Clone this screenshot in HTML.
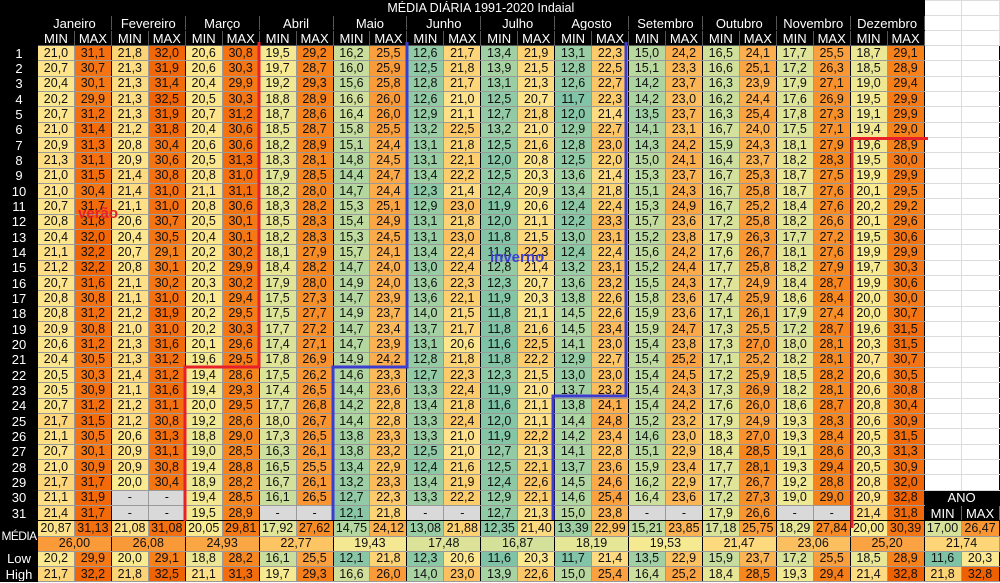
<!DOCTYPE html>
<html><head><meta charset="utf-8">
<style>
html,body{margin:0;padding:0;background:#fff;width:1000px;height:583px;overflow:hidden}
table{border-collapse:collapse;table-layout:fixed;width:998px;font-family:"Liberation Sans",Arial,sans-serif;font-size:12.5px;color:#111}
td,th{padding:0;text-align:center;border:1px solid #9a9a9a;white-space:nowrap;overflow:hidden;line-height:13px}
tr{height:15.33px}
tr.h{height:15px}
th{background:#000;color:#fff;font-weight:normal;font-size:13px;border-color:#000}
th.s{border-right:1px solid #666;border-left:1px solid #666}
tr.h th.m{border-right:1px solid #555}
tr.h th.mm{border-right:1px solid #555;border-bottom:1px solid #555}
tr.d>td:nth-child(odd){border-right:1px solid #000}
tr.last td{border-bottom:1px solid #000}
td.w{background:#fff!important;border:1px solid #dcdcdc}
td.w2{background:#fff!important;border:1px solid #dcdcdc}
td{background:#fcd47a}
td.g{background:#d9d9d9!important}
th.md{font-size:12px;letter-spacing:-0.6px;overflow:visible}
#ov{position:absolute;left:0;top:0}
</style></head><body>
<table>
<colgroup><col style="width:37px"><col span="24" style="width:36.95px"><col style="width:37px"><col style="width:38px"></colgroup>
<tr class="h"><th></th><th colspan="24" style="font-size:12.5px;padding-left:0">MÉDIA DIÁRIA 1991-2020 Indaial</th><td class="w2"></td><td class="w2"></td></tr>
<tr class="h"><th></th><th colspan="2" class="m">Janeiro</th><th colspan="2" class="m">Fevereiro</th><th colspan="2" class="m">Março</th><th colspan="2" class="m">Abril</th><th colspan="2" class="m">Maio</th><th colspan="2" class="m">Junho</th><th colspan="2" class="m">Julho</th><th colspan="2" class="m">Agosto</th><th colspan="2" class="m">Setembro</th><th colspan="2" class="m">Outubro</th><th colspan="2" class="m">Novembro</th><th colspan="2" class="m">Dezembro</th><td class="w2"></td><td class="w2"></td></tr>
<tr class="h"><th></th><th class="mm">MIN</th><th class="mm">MAX</th><th class="mm">MIN</th><th class="mm">MAX</th><th class="mm">MIN</th><th class="mm">MAX</th><th class="mm">MIN</th><th class="mm">MAX</th><th class="mm">MIN</th><th class="mm">MAX</th><th class="mm">MIN</th><th class="mm">MAX</th><th class="mm">MIN</th><th class="mm">MAX</th><th class="mm">MIN</th><th class="mm">MAX</th><th class="mm">MIN</th><th class="mm">MAX</th><th class="mm">MIN</th><th class="mm">MAX</th><th class="mm">MIN</th><th class="mm">MAX</th><th class="mm">MIN</th><th class="mm">MAX</th><td class="w2"></td><td class="w2"></td></tr>
<tr class="d"><th>1</th><td>21,0<td>31,1<td>21,8<td>32,0<td>20,6<td>30,8<td>19,5<td>29,2<td>16,2<td>25,5<td>12,6<td>21,7<td>13,4<td>21,9<td>13,1<td>22,3<td>15,0<td>24,2<td>16,5<td>24,1<td>17,7<td>25,5<td>18,7<td>29,1<td class="w"><td class="w"></tr>
<tr class="d"><th>2</th><td>20,7<td>30,7<td>21,3<td>31,9<td>20,6<td>30,3<td>19,7<td>28,7<td>16,0<td>25,9<td>12,5<td>21,8<td>13,9<td>21,5<td>12,8<td>22,5<td>15,1<td>23,3<td>16,6<td>25,1<td>17,2<td>26,3<td>18,5<td>28,9<td class="w"><td class="w"></tr>
<tr class="d"><th>3</th><td>20,4<td>30,1<td>21,3<td>31,4<td>20,4<td>29,9<td>19,2<td>29,3<td>15,6<td>25,8<td>12,8<td>21,7<td>13,1<td>21,3<td>12,6<td>22,7<td>14,2<td>23,7<td>16,3<td>23,9<td>17,9<td>27,1<td>19,0<td>29,4<td class="w"><td class="w"></tr>
<tr class="d"><th>4</th><td>20,2<td>29,9<td>21,3<td>32,5<td>20,5<td>30,3<td>18,8<td>28,9<td>16,6<td>26,0<td>12,6<td>21,0<td>12,5<td>20,7<td>11,7<td>22,3<td>14,2<td>23,0<td>16,2<td>24,4<td>17,6<td>26,9<td>19,5<td>29,9<td class="w"><td class="w"></tr>
<tr class="d"><th>5</th><td>20,7<td>31,2<td>21,3<td>31,9<td>20,7<td>31,2<td>18,7<td>28,6<td>16,4<td>26,0<td>12,9<td>21,1<td>12,7<td>21,8<td>12,0<td>21,4<td>13,5<td>23,7<td>16,3<td>25,4<td>17,8<td>27,3<td>19,1<td>29,9<td class="w"><td class="w"></tr>
<tr class="d"><th>6</th><td>21,0<td>31,4<td>21,2<td>31,8<td>20,4<td>30,6<td>18,5<td>28,7<td>15,8<td>25,5<td>13,2<td>22,5<td>13,2<td>21,0<td>12,9<td>22,7<td>14,1<td>23,1<td>16,7<td>24,0<td>17,5<td>27,1<td>19,4<td>29,0<td class="w"><td class="w"></tr>
<tr class="d"><th>7</th><td>20,9<td>31,3<td>20,8<td>30,4<td>20,6<td>30,6<td>18,2<td>28,9<td>15,1<td>24,4<td>13,1<td>21,8<td>12,5<td>21,6<td>12,8<td>23,0<td>14,3<td>24,2<td>15,9<td>24,3<td>18,1<td>27,9<td>19,6<td>28,9<td class="w"><td class="w"></tr>
<tr class="d"><th>8</th><td>21,3<td>31,1<td>20,9<td>30,6<td>20,5<td>31,3<td>18,3<td>28,1<td>14,8<td>24,5<td>13,1<td>22,1<td>12,0<td>20,8<td>12,5<td>22,0<td>15,0<td>24,1<td>16,4<td>23,7<td>18,2<td>28,3<td>19,5<td>30,0<td class="w"><td class="w"></tr>
<tr class="d"><th>9</th><td>21,0<td>31,5<td>21,4<td>30,8<td>20,8<td>31,0<td>17,9<td>28,5<td>14,4<td>24,7<td>13,4<td>22,2<td>12,5<td>20,3<td>13,6<td>21,4<td>15,3<td>23,7<td>16,7<td>25,3<td>18,7<td>27,5<td>19,9<td>29,9<td class="w"><td class="w"></tr>
<tr class="d"><th>10</th><td>21,0<td>30,4<td>21,4<td>31,0<td>21,1<td>31,1<td>18,2<td>28,0<td>14,7<td>24,4<td>12,3<td>21,4<td>12,4<td>20,9<td>13,4<td>21,8<td>15,1<td>24,3<td>16,7<td>25,8<td>18,7<td>27,6<td>20,1<td>29,5<td class="w"><td class="w"></tr>
<tr class="d"><th>11</th><td>20,7<td>31,7<td>21,1<td>31,0<td>20,8<td>30,6<td>18,3<td>28,2<td>15,3<td>25,1<td>12,9<td>23,0<td>11,9<td>20,6<td>12,4<td>22,4<td>15,3<td>24,9<td>16,7<td>25,2<td>18,4<td>27,6<td>20,2<td>29,2<td class="w"><td class="w"></tr>
<tr class="d"><th>12</th><td>20,8<td>31,8<td>20,6<td>30,7<td>20,5<td>30,1<td>18,5<td>28,3<td>15,4<td>24,9<td>13,1<td>21,8<td>12,0<td>21,1<td>12,2<td>23,3<td>15,7<td>23,6<td>17,2<td>25,8<td>18,2<td>26,6<td>20,1<td>29,6<td class="w"><td class="w"></tr>
<tr class="d"><th>13</th><td>20,4<td>32,0<td>20,4<td>30,5<td>20,4<td>30,1<td>18,2<td>28,3<td>15,3<td>24,5<td>13,1<td>23,0<td>11,8<td>21,5<td>13,0<td>23,1<td>15,2<td>23,8<td>17,9<td>26,3<td>17,7<td>27,2<td>19,5<td>30,6<td class="w"><td class="w"></tr>
<tr class="d"><th>14</th><td>21,1<td>32,2<td>20,7<td>29,1<td>20,2<td>30,2<td>18,1<td>27,9<td>15,7<td>24,1<td>13,4<td>22,4<td>11,8<td>22,3<td>12,4<td>22,4<td>15,6<td>24,2<td>17,6<td>26,7<td>18,1<td>27,6<td>19,9<td>29,9<td class="w"><td class="w"></tr>
<tr class="d"><th>15</th><td>21,2<td>32,2<td>20,8<td>30,1<td>20,2<td>29,9<td>18,4<td>28,2<td>14,7<td>24,0<td>13,0<td>22,4<td>12,8<td>21,4<td>13,2<td>23,1<td>15,2<td>24,4<td>17,7<td>25,8<td>18,2<td>27,9<td>19,7<td>30,3<td class="w"><td class="w"></tr>
<tr class="d"><th>16</th><td>20,7<td>31,6<td>21,1<td>30,2<td>20,3<td>30,2<td>17,9<td>28,0<td>14,9<td>24,0<td>13,6<td>22,3<td>12,3<td>20,7<td>13,6<td>23,2<td>15,5<td>24,3<td>17,7<td>24,9<td>18,4<td>28,7<td>19,9<td>30,6<td class="w"><td class="w"></tr>
<tr class="d"><th>17</th><td>20,8<td>30,8<td>21,1<td>31,0<td>20,1<td>29,4<td>17,5<td>27,3<td>14,7<td>23,9<td>13,6<td>22,1<td>11,9<td>20,3<td>13,8<td>22,6<td>15,8<td>23,6<td>17,4<td>25,9<td>18,6<td>28,4<td>20,0<td>30,0<td class="w"><td class="w"></tr>
<tr class="d"><th>18</th><td>20,8<td>31,2<td>21,2<td>31,9<td>20,2<td>29,5<td>17,5<td>27,7<td>14,9<td>23,7<td>14,0<td>21,5<td>11,8<td>21,1<td>14,5<td>22,6<td>15,9<td>23,6<td>17,1<td>26,1<td>17,9<td>27,4<td>20,0<td>30,7<td class="w"><td class="w"></tr>
<tr class="d"><th>19</th><td>20,9<td>30,8<td>21,0<td>31,0<td>20,2<td>30,3<td>17,7<td>27,2<td>14,7<td>23,4<td>13,7<td>21,7<td>11,8<td>21,6<td>14,5<td>23,4<td>15,9<td>24,7<td>17,3<td>25,5<td>17,2<td>28,7<td>19,6<td>31,5<td class="w"><td class="w"></tr>
<tr class="d"><th>20</th><td>20,6<td>31,2<td>21,3<td>31,6<td>20,1<td>29,6<td>17,4<td>27,1<td>14,7<td>23,9<td>13,1<td>20,6<td>11,6<td>22,5<td>14,1<td>23,0<td>15,4<td>23,8<td>17,3<td>27,0<td>18,0<td>28,1<td>20,3<td>31,5<td class="w"><td class="w"></tr>
<tr class="d"><th>21</th><td>20,4<td>30,5<td>21,3<td>31,2<td>19,6<td>29,5<td>17,8<td>26,9<td>14,9<td>24,2<td>12,8<td>21,8<td>11,8<td>22,2<td>12,9<td>22,7<td>15,4<td>25,2<td>17,1<td>25,2<td>18,2<td>28,1<td>20,7<td>30,7<td class="w"><td class="w"></tr>
<tr class="d"><th>22</th><td>20,5<td>30,3<td>21,4<td>31,2<td>19,4<td>28,6<td>17,5<td>26,2<td>14,6<td>23,3<td>12,7<td>22,3<td>12,3<td>21,5<td>13,0<td>23,0<td>15,4<td>24,5<td>17,2<td>25,9<td>18,5<td>28,2<td>20,6<td>30,5<td class="w"><td class="w"></tr>
<tr class="d"><th>23</th><td>20,5<td>30,9<td>21,1<td>31,6<td>19,4<td>29,3<td>17,4<td>26,5<td>14,4<td>23,6<td>13,3<td>22,4<td>11,9<td>21,0<td>13,7<td>23,2<td>15,4<td>24,3<td>17,3<td>26,9<td>18,2<td>28,1<td>20,6<td>30,8<td class="w"><td class="w"></tr>
<tr class="d"><th>24</th><td>20,7<td>31,2<td>21,2<td>31,1<td>20,0<td>29,5<td>17,7<td>26,8<td>14,2<td>22,8<td>13,4<td>21,8<td>11,6<td>21,1<td>13,8<td>24,1<td>15,4<td>24,2<td>17,6<td>26,0<td>18,6<td>28,7<td>20,8<td>30,4<td class="w"><td class="w"></tr>
<tr class="d"><th>25</th><td>21,7<td>31,5<td>21,2<td>30,8<td>19,2<td>28,6<td>18,0<td>26,7<td>14,4<td>22,8<td>13,3<td>22,4<td>12,0<td>21,1<td>14,4<td>24,8<td>15,2<td>23,2<td>17,9<td>24,9<td>19,3<td>28,3<td>20,6<td>30,9<td class="w"><td class="w"></tr>
<tr class="d"><th>26</th><td>21,1<td>30,5<td>20,6<td>31,3<td>18,8<td>29,0<td>17,3<td>26,5<td>13,8<td>23,3<td>13,3<td>21,0<td>11,9<td>22,2<td>14,2<td>23,4<td>14,6<td>23,0<td>18,3<td>27,0<td>19,3<td>28,4<td>20,5<td>31,5<td class="w"><td class="w"></tr>
<tr class="d"><th>27</th><td>20,7<td>30,1<td>20,9<td>31,1<td>19,0<td>28,5<td>16,3<td>26,1<td>13,8<td>23,2<td>12,5<td>21,0<td>12,7<td>21,3<td>14,1<td>22,8<td>15,1<td>22,9<td>18,4<td>28,5<td>19,1<td>28,6<td>20,3<td>31,3<td class="w"><td class="w"></tr>
<tr class="d"><th>28</th><td>21,0<td>30,9<td>20,9<td>30,8<td>19,4<td>28,8<td>16,5<td>25,5<td>13,4<td>22,9<td>12,4<td>21,6<td>12,5<td>22,1<td>13,7<td>23,6<td>15,9<td>23,4<td>17,7<td>28,1<td>19,3<td>29,4<td>20,5<td>30,9<td class="w"><td class="w"></tr>
<tr class="d"><th>29</th><td>21,7<td>31,7<td>20,0<td>30,4<td>18,9<td>28,2<td>16,7<td>26,1<td>13,2<td>23,3<td>13,4<td>21,9<td>12,4<td>22,6<td>14,5<td>24,6<td>16,2<td>22,9<td>17,7<td>26,7<td>19,2<td>28,8<td>20,8<td>32,0<td class="w"><td class="w"></tr>
<tr class="d"><th>30</th><td>21,1<td>31,9<td class="g">-<td class="g">-<td>19,4<td>28,5<td>16,1<td>26,5<td>12,7<td>22,3<td>13,3<td>22,2<td>12,9<td>22,1<td>14,6<td>25,4<td>16,4<td>23,6<td>17,2<td>27,3<td>19,0<td>29,0<td>20,9<td>32,8<th colspan="2" style="border-color:#000">ANO</th></tr>
<tr class="d last"><th>31</th><td>21,4<td>31,7<td class="g">-<td class="g">-<td>19,5<td>28,9<td class="g">-<td class="g">-<td>12,1<td>21,8<td class="g">-<td class="g">-<td>12,7<td>21,3<td>15,0<td>23,8<td class="g">-<td class="g">-<td>17,9<td>26,6<td class="g">-<td class="g">-<td>21,4<td>31,8<th class="s">MIN</th><th class="s">MAX</th></tr>
<tr class="d"><th rowspan="2" class="md">MÉDIA</th><td>20,87<td>31,13<td>21,08<td>31,08<td>20,05<td>29,81<td>17,92<td>27,62<td>14,75<td>24,12<td>13,08<td>21,88<td>12,35<td>21,40<td>13,39<td>22,99<td>15,21<td>23,85<td>17,18<td>25,75<td>18,29<td>27,84<td>20,00<td>30,39<td>17,00<td>26,47</tr>
<tr><td colspan="2" style="border-right:1px solid #000">26,00<td colspan="2" style="border-right:1px solid #000">26,08<td colspan="2" style="border-right:1px solid #000">24,93<td colspan="2" style="border-right:1px solid #000">22,77<td colspan="2" style="border-right:1px solid #000">19,43<td colspan="2" style="border-right:1px solid #000">17,48<td colspan="2" style="border-right:1px solid #000">16,87<td colspan="2" style="border-right:1px solid #000">18,19<td colspan="2" style="border-right:1px solid #000">19,53<td colspan="2" style="border-right:1px solid #000">21,47<td colspan="2" style="border-right:1px solid #000">23,06<td colspan="2" style="border-right:1px solid #000">25,20<td colspan="2">21,74</tr>
<tr class="d"><th>Low</th><td>20,2<td>29,9<td>20,0<td>29,1<td>18,8<td>28,2<td>16,1<td>25,5<td>12,1<td>21,8<td>12,3<td>20,6<td>11,6<td>20,3<td>11,7<td>21,4<td>13,5<td>22,9<td>15,9<td>23,7<td>17,2<td>25,5<td>18,5<td>28,9<td>11,6<td>20,3</tr>
<tr class="d"><th>High</th><td>21,7<td>32,2<td>21,8<td>32,5<td>21,1<td>31,3<td>19,7<td>29,3<td>16,6<td>26,0<td>14,0<td>23,0<td>13,9<td>22,6<td>15,0<td>25,4<td>16,4<td>25,2<td>18,4<td>28,5<td>19,3<td>29,4<td>21,4<td>32,8<td>21,8<td>32,8</tr>
</table>
<svg id="ov" width="1000" height="583" xmlns="http://www.w3.org/2000/svg">
<polyline points="259,42 259,367 185,367 185,521" fill="none" stroke="#e8202a" stroke-width="3"/>
<polyline points="928,138.5 852,138.5 852,528" fill="none" stroke="#e8202a" stroke-width="3"/>
<polyline points="407,42 407,367 333,367 333,520" fill="none" stroke="#3c3cd0" stroke-width="3"/>
<polyline points="626,42 626,396 553,396 553,520" fill="none" stroke="#3c3cd0" stroke-width="3"/>
<text x="78" y="218" font-family="Liberation Sans, sans-serif" font-size="15" font-weight="bold" fill="#e8202a">verão</text>
<text x="490" y="262" font-family="Liberation Sans, sans-serif" font-size="15" font-weight="bold" fill="#4040d0">inverno</text>
</svg>
<script>
var stops=[[11.6,[127,195,167]],[14,[169,211,162]],[17,[214,226,154]],[20,[251,235,144]],[21,[255,226,138]],[22,[253,208,112]],[24,[252,176,80]],[26,[250,154,56]],[28.5,[247,134,30]],[31,[244,112,16]],[32.8,[239,96,0]]];
function col(v){if(v<=stops[0][0])return stops[0][1];for(var i=1;i<stops.length;i++){if(v<=stops[i][0]){var a=stops[i-1],b=stops[i],t=(v-a[0])/(b[0]-a[0]);return [0,1,2].map(function(k){return Math.round(a[1][k]+(b[1][k]-a[1][k])*t)});}}return stops[stops.length-1][1];}
document.querySelectorAll('td').forEach(function(td){var s=td.textContent.trim();if(/^\d+,\d+$/.test(s)){var c=col(parseFloat(s.replace(',','.')));td.style.background='rgb('+c.join(',')+')';}});
</script>
</body></html>
